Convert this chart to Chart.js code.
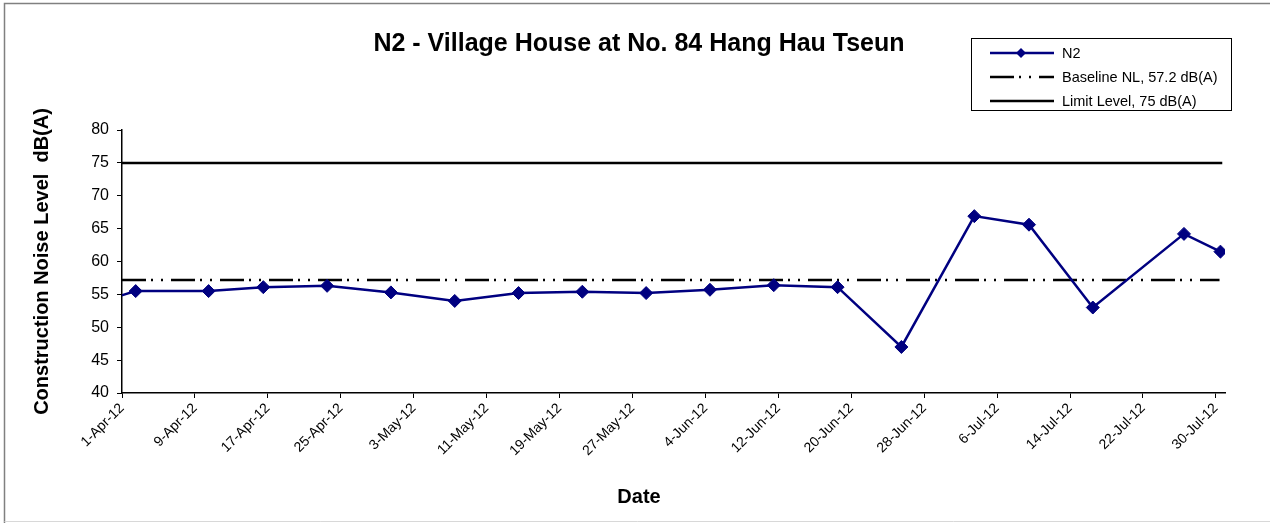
<!DOCTYPE html>
<html>
<head>
<meta charset="utf-8">
<script src="https://cdn.jsdelivr.net/npm/chart.js@4/dist/chart.umd.min.js"></script>
<style>
  html, body { margin: 0; padding: 0; background: #fff; }
</style>
</head>
<body>
<canvas id="noiseChart" width="1270" height="523"></canvas>
<script>
// measured data, N2 monitoring station
var sampleDates = ["26-Mar-12", "2-Apr-12", "10-Apr-12", "16-Apr-12", "23-Apr-12", "30-Apr-12",
  "7-May-12", "14-May-12", "21-May-12", "28-May-12", "4-Jun-12", "11-Jun-12", "18-Jun-12",
  "25-Jun-12", "3-Jul-12", "9-Jul-12", "16-Jul-12", "26-Jul-12", "30-Jul-12"];
var n2Levels = [52.5, 55.5, 55.5, 56.1, 56.3, 55.3, 54.0, 55.2, 55.4, 55.2, 55.7, 56.4, 56.1,
  47.0, 66.9, 65.6, 53.0, 64.2, 61.5];
var baselineLevel = 57.2;
var limitLevel = 75;
var xTickDates = ["1-Apr-12", "9-Apr-12", "17-Apr-12", "25-Apr-12", "3-May-12", "11-May-12",
  "19-May-12", "27-May-12", "4-Jun-12", "12-Jun-12", "20-Jun-12", "28-Jun-12", "6-Jul-12",
  "14-Jul-12", "22-Jul-12", "30-Jul-12"];
var yTicks = [40, 45, 50, 55, 60, 65, 70, 75, 80];

var months = ["Jan", "Feb", "Mar", "Apr", "May", "Jun", "Jul", "Aug", "Sep", "Oct", "Nov", "Dec"];
var startDay = Date.UTC(2012, 3, 1);

// days since 1-Apr-12
function dayOf(s) {
  var p = s.split("-");
  return (Date.UTC(2000 + parseInt(p[2], 10), months.indexOf(p[1]), parseInt(p[0], 10)) - startDay) / 86400000;
}
function labelOf(d) {
  var dt = new Date(startDay + Math.round(d) * 86400000);
  return dt.getUTCDate() + "-" + months[dt.getUTCMonth()] + "-" + String(dt.getUTCFullYear()).slice(2);
}

var axisEnd = dayOf("31-Jul-12");

var n2Points = sampleDates.map(function (d, i) {
  return { x: dayOf(d) + 0.5, y: n2Levels[i] };
});

var canvas = document.getElementById("noiseChart");
Chart.defaults.font.family = "'Liberation Sans', Arial, sans-serif";
Chart.defaults.color = "#000";

var frameAndLegend = {
  id: "frameAndLegend",
  beforeDraw: function (chart) {
    var c = chart.ctx;
    c.save();
    c.fillStyle = "#fff";
    c.fillRect(0, 0, chart.width, chart.height);
    c.strokeStyle = "#808080";
    c.lineWidth = 1.5;
    c.beginPath();
    c.moveTo(4.5, 523);
    c.lineTo(4.5, 3.5);
    c.lineTo(1270, 3.5);
    c.stroke();
    c.strokeStyle = "#d8d8d8";
    c.lineWidth = 1;
    c.beginPath();
    c.moveTo(4.5, 521.5);
    c.lineTo(1270, 521.5);
    c.stroke();
    c.restore();
  },
  afterDraw: function (chart) {
    var c = chart.ctx;
    c.save();
    // title
    c.font = "bold 25px 'Liberation Sans', Arial, sans-serif";
    c.fillStyle = "#000";
    c.textAlign = "center";
    c.textBaseline = "middle";
    c.fillText("N2 - Village House at No. 84 Hang Hau Tseun", 639, 44);

    // x axis title
    c.font = "bold 20px 'Liberation Sans', Arial, sans-serif";
    c.fillText("Date", 639, 497);

    // legend box
    c.strokeStyle = "#000";
    c.lineWidth = 1;
    c.strokeRect(971.5, 38.5, 260, 72);
    var rows = [53, 77, 101];
    c.font = "14.5px 'Liberation Sans', Arial, sans-serif";
    c.textAlign = "left";
    chart.data.datasets.forEach(function (ds, i) {
      var y = rows[i];
      c.strokeStyle = ds.borderColor;
      c.lineWidth = ds.borderWidth;
      c.setLineDash(ds.borderDash || []);
      c.beginPath();
      c.moveTo(990, y);
      c.lineTo(1054, y);
      c.stroke();
      c.setLineDash([]);
      if (ds.pointRadius > 0) {
        c.fillStyle = ds.pointBackgroundColor;
        c.beginPath();
        c.moveTo(1021, y - 5);
        c.lineTo(1026, y);
        c.lineTo(1021, y + 5);
        c.lineTo(1016, y);
        c.closePath();
        c.fill();
      }
      c.fillStyle = "#000";
      c.fillText(ds.label, 1062, y + 1);
    });
    c.restore();
  }
};

new Chart(canvas, {
  type: "line",
  data: {
    datasets: [{
      label: "N2",
      data: n2Points,
      borderColor: "#000080",
      backgroundColor: "#000080",
      borderWidth: 2.5,
      pointStyle: "rectRot",
      pointRadius: 6.5,
      pointBackgroundColor: "#000080",
      pointBorderColor: "#000080",
      pointBorderWidth: 1,
      tension: 0
    }, {
      label: "Baseline NL, 57.2 dB(A)",
      data: [{ x: 0, y: baselineLevel }, { x: axisEnd - 0.6, y: baselineLevel }],
      borderColor: "#000",
      borderWidth: 2.5,
      borderDash: [24, 5, 2, 8, 2, 8],
      pointRadius: 0
    }, {
      label: "Limit Level, 75 dB(A)",
      data: [{ x: 0, y: limitLevel }, { x: axisEnd - 0.3, y: limitLevel }],
      borderColor: "#000",
      borderWidth: 2.5,
      pointRadius: 0
    }]
  },
  options: {
    responsive: false,
    animation: false,
    devicePixelRatio: 1,
    layout: { padding: { left: 30, right: 45, top: 130, bottom: 0 } },
    plugins: {
      legend: { display: false },
      title: { display: false },
      tooltip: { enabled: false }
    },
    scales: {
      x: {
        type: "linear",
        min: 0,
        max: axisEnd,
        afterBuildTicks: function (s) {
          s.ticks = xTickDates.map(function (d) { return { value: dayOf(d) }; });
        },
        afterFit: function (s) { s.height = 130; },
        grid: { drawOnChartArea: false, drawTicks: true, tickLength: 5, color: "#000" },
        border: { color: "#000", width: 1.5 },
        ticks: {
          autoSkip: false,
          maxRotation: 45,
          minRotation: 45,
          padding: 2,
          font: { size: 14 },
          callback: function (v) { return labelOf(v); }
        }
      },
      y: {
        min: 40,
        max: 80,
        afterBuildTicks: function (s) {
          s.ticks = yTicks.map(function (v) { return { value: v }; });
        },
        afterFit: function (s) { s.width = 92; },
        grid: { drawOnChartArea: false, drawTicks: true, tickLength: 5, color: "#000" },
        border: { color: "#000", width: 1.5 },
        ticks: { font: { size: 16 }, padding: 8 },
        title: {
          display: true,
          text: "Construction Noise Level  dB(A)",
          font: { size: 20, weight: "bold" },
          padding: { top: 0, bottom: 4 }
        }
      }
    }
  },
  plugins: [frameAndLegend]
});
</script>
</body>
</html>
